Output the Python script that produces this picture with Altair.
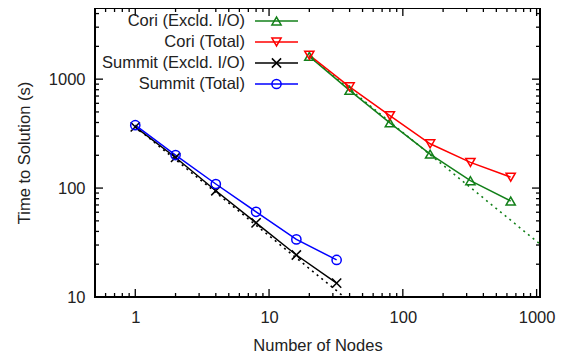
import altair as alt
import pandas as pd

# ---- data ----
series_names = ["Cori (Excld. I/O)", "Cori (Total)", "Summit (Excld. I/O)", "Summit (Total)"]
series_colors = ["#13801a", "#ff0000", "#000000", "#0000ff"]
series_shapes = ["triangle-up", "triangle-down", "M-1,-1L1,1M-1,1L1,-1", "circle"]

cori_nodes = [20, 40, 80, 160, 320, 640]
cori_excl = [1620, 790, 397, 205, 117, 76]
cori_total = [1660, 850, 462, 255, 172, 126]

summit_nodes = [1, 2, 4, 8, 16, 32]
summit_excl = [365, 191, 94.5, 48, 24.3, 13.4]
summit_total = [378, 201, 109, 60.6, 33.8, 21.9]

ideal_summit_x = [1, 36.5]
ideal_summit_y = [365, 10]
ideal_cori_x = [20, 1060]
ideal_cori_y = [1620, 30.6]

x_major = [1, 10, 100, 1000]
x_minor = [0.6, 0.7, 0.8, 0.9, 2, 3, 4, 5, 6, 7, 8, 9,
           20, 30, 40, 50, 60, 70, 80, 90, 200, 300, 400, 500, 600, 700, 800, 900]
y_major = [10, 100, 1000]
y_minor = [20, 30, 40, 50, 60, 70, 80, 90, 200, 300, 400, 500, 600, 700, 800, 900,
           2000, 3000, 4000]

x_domain = [0.5, 1060]
y_domain = [10, 4500]

# ---- tables ----
rows = []
for n, v in zip(cori_nodes, cori_excl):
    rows.append({"series": series_names[0], "nodes": n, "time": v})
for n, v in zip(cori_nodes, cori_total):
    rows.append({"series": series_names[1], "nodes": n, "time": v})
for n, v in zip(summit_nodes, summit_excl):
    rows.append({"series": series_names[2], "nodes": n, "time": v})
for n, v in zip(summit_nodes, summit_total):
    rows.append({"series": series_names[3], "nodes": n, "time": v})
df = pd.DataFrame(rows)

ideal = pd.DataFrame(
    [{"line": "summit", "nodes": x, "time": y} for x, y in zip(ideal_summit_x, ideal_summit_y)]
    + [{"line": "cori", "nodes": x, "time": y} for x, y in zip(ideal_cori_x, ideal_cori_y)]
)

W, H = 445, 289
FONT = "Liberation Sans"
FS = 16.5

xs = alt.Scale(type="log", domain=x_domain, nice=False)
ys = alt.Scale(type="log", domain=y_domain, nice=False)
cs = alt.Scale(domain=series_names, range=series_colors)
ss = alt.Scale(domain=series_names, range=series_shapes)

X = alt.X("nodes:Q", scale=xs,
          axis=alt.Axis(values=x_major, format="d", title="Number of Nodes",
                        ticks=False, domain=False, grid=False, tickSize=0,
                        labelPadding=12, titlePadding=12, labelFont=FONT, titleFont=FONT,
                        labelFontSize=FS, titleFontSize=FS, labelColor="#222",
                        titleColor="#222", titleFontWeight="normal", labelFlush=False))
Y = alt.Y("time:Q", scale=ys,
          axis=alt.Axis(values=y_major, format="d", title="Time to Solution (s)",
                        ticks=False, domain=False, grid=False, tickSize=0,
                        labelPadding=10, titlePadding=16, labelFont=FONT, titleFont=FONT,
                        labelFontSize=FS, titleFontSize=FS, labelColor="#222",
                        titleColor="#222", titleFontWeight="normal", labelFlush=False))

ideal_lines = alt.Chart(ideal).mark_line(strokeWidth=1.6, strokeDash=[2, 4], clip=True).encode(
    x=X, y=Y,
    color=alt.Color("line:N", scale=alt.Scale(domain=["summit", "cori"], range=["#000000", "#13801a"]), legend=None),
)

lines = alt.Chart(df).mark_line(strokeWidth=1.5).encode(
    x=X, y=Y,
    color=alt.Color("series:N", scale=cs, legend=None),
    detail="series:N",
)
points = alt.Chart(df).mark_point(filled=False, size=85, strokeWidth=1.5, opacity=1).encode(
    x=X, y=Y,
    color=alt.Color("series:N", scale=cs, legend=None),
    shape=alt.Shape("series:N", scale=ss, legend=None),
)

# ---- inward tick marks (mirrored on all sides) ----
def xticks(vals, length):
    d = pd.DataFrame({"nodes": vals})
    bottom = alt.Chart(d).mark_rule(color="black", strokeWidth=1.3).encode(
        x=alt.X("nodes:Q", scale=xs), y=alt.value(H), y2=alt.value(H - length))
    top = alt.Chart(d).mark_rule(color="black", strokeWidth=1.3).encode(
        x=alt.X("nodes:Q", scale=xs), y=alt.value(0), y2=alt.value(length))
    return [bottom, top]

def yticks(vals, length):
    d = pd.DataFrame({"time": vals})
    left = alt.Chart(d).mark_rule(color="black", strokeWidth=1.3).encode(
        y=alt.Y("time:Q", scale=ys), x=alt.value(0), x2=alt.value(length))
    right = alt.Chart(d).mark_rule(color="black", strokeWidth=1.3).encode(
        y=alt.Y("time:Q", scale=ys), x=alt.value(W), x2=alt.value(W - length))
    return [left, right]

tick_layers = xticks(x_major, 8) + xticks(x_minor, 4) + yticks(y_major, 8) + yticks(y_minor, 4)

# ---- legend drawn inside the plot ----
leg = pd.DataFrame({"series": series_names})
leg["ypix"] = [13 + 21 * i for i in range(len(series_names))]
leg_text = alt.Chart(leg).mark_text(align="right", baseline="middle", font=FONT,
                                    fontSize=FS, color="#222").encode(
    x=alt.value(150), y=alt.Y("ypix:Q", scale=None), text="series:N")
leg_line = alt.Chart(leg).mark_rule(strokeWidth=1.5).encode(
    x=alt.value(160), x2=alt.value(203), y=alt.Y("ypix:Q", scale=None),
    color=alt.Color("series:N", scale=cs, legend=None))
leg_pt = alt.Chart(leg).mark_point(filled=False, size=85, strokeWidth=1.5, opacity=1).encode(
    x=alt.value(181.5), y=alt.Y("ypix:Q", scale=None),
    color=alt.Color("series:N", scale=cs, legend=None),
    shape=alt.Shape("series:N", scale=ss, legend=None))

chart = alt.layer(
    ideal_lines, lines, points, *tick_layers, leg_text, leg_line, leg_pt
).resolve_scale(color="independent").properties(
    width=W, height=H,
    autosize=alt.AutoSizeParams(type="none"),
    padding={"left": 87, "top": 0, "right": 23, "bottom": 59},
    background="white",
).configure_view(stroke="black", strokeWidth=2)

chart.save("out.html", embed_options={"renderer": "svg", "actions": False})
